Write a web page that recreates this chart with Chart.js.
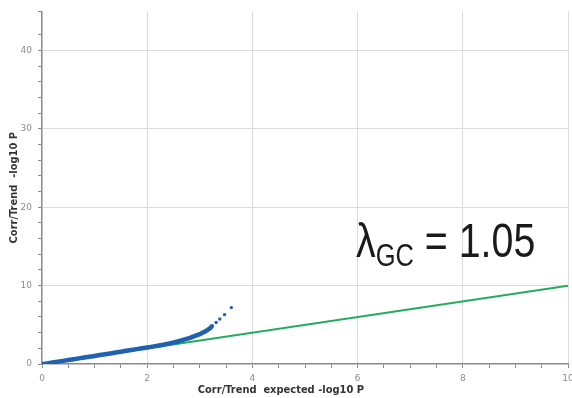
<!DOCTYPE html>
<html>
<head>
<meta charset="utf-8">
<script src="https://cdn.jsdelivr.net/npm/chart.js@4"></script>
<style>
    html, body { margin: 0; padding: 0; background: #ffffff; }
    #wrap { width: 572px; height: 398px; }
</style>
</head>
<body>
<div id="wrap"><canvas id="qqChart" width="572" height="398"></canvas></div>
<script>
// ============================================
// Data
// ============================================

// dense part of the QQ curve: expected vs observed -log10 P
const expectedP = [0, 0.05, 0.1, 0.2, 0.3, 0.4, 0.5, 0.6, 0.7, 0.8, 0.9, 1.0, 1.1, 1.2, 1.3, 1.4, 1.5, 1.6, 1.7, 1.8, 1.9,
    2.0, 2.1, 2.2, 2.3, 2.4, 2.5, 2.6, 2.7, 2.8, 2.9, 3.0, 3.05, 3.1, 3.15, 3.2, 3.24];
const observedP = [0, 0.03, 0.08, 0.19, 0.3, 0.4, 0.51, 0.61, 0.72, 0.82, 0.93, 1.03, 1.14, 1.25, 1.35, 1.46, 1.57, 1.68, 1.79, 1.9, 2.0,
    2.11, 2.22, 2.34, 2.46, 2.6, 2.74, 2.9, 3.1, 3.3, 3.55, 3.8, 3.98, 4.15, 4.35, 4.6, 4.9];

// the few separate points at the top of the tail
const tailExpected = [3.31, 3.38, 3.47, 3.6];
const tailObserved = [5.3, 5.75, 6.3, 7.2];

// null line y = x
const nullX = [0, 10];
const nullY = [0, 10];

// axes
const xMajorTicks = [0, 2, 4, 6, 8, 10];
const yMajorTicks = [0, 10, 20, 30, 40];
const xRange = [0, 10];
const yRange = [0, 45];

// annotation
const lambdaLabel = { main: 'λ', sub: 'GC', rest: ' = 1.05' };
const lambdaAt = { x: 5.97, y: 13.7 };

// ============================================
// Helpers
// ============================================

function toPoints(xs, ys) {
    return xs.map((x, i) => ({ x: x, y: ys[i] }));
}

const gridColor = '#dcdcdc';
const axisColor = '#8a8a8a';

// draws the lambda_GC text in data coordinates
const lambdaPlugin = {
    id: 'lambdaText',
    afterDatasetsDraw(chart) {
        const ctx = chart.ctx;
        const px = chart.scales.x.getPixelForValue(lambdaAt.x);
        const py = chart.scales.y.getPixelForValue(lambdaAt.y);
        const squeeze = 0.82;
        ctx.save();
        ctx.translate(px, py);
        ctx.scale(squeeze, 1);
        ctx.fillStyle = '#1a1a1a';
        ctx.textBaseline = 'alphabetic';
        ctx.textAlign = 'left';
        ctx.font = '48px "Liberation Sans", Arial, sans-serif';
        ctx.fillText(lambdaLabel.main, 0, 0);
        let w = ctx.measureText(lambdaLabel.main).width;
        ctx.font = '31px "Liberation Sans", Arial, sans-serif';
        ctx.fillText(lambdaLabel.sub, w, 9);
        w += ctx.measureText(lambdaLabel.sub).width;
        ctx.font = '48px "Liberation Sans", Arial, sans-serif';
        ctx.fillText(lambdaLabel.rest, w, 0);
        ctx.restore();
    }
};

// ============================================
// Chart
// ============================================

const ctx = document.getElementById('qqChart').getContext('2d');
const qqChart = new Chart(ctx, {
    type: 'scatter',
    data: {
        datasets: [
            {
                label: 'null',
                data: toPoints(nullX, nullY),
                showLine: true,
                borderColor: '#22ad5c',
                borderWidth: 2,
                pointRadius: 0,
                order: 2
            },
            {
                label: 'observed',
                data: toPoints(expectedP, observedP),
                showLine: true,
                borderColor: '#1f62ae',
                backgroundColor: '#1f62ae',
                borderWidth: 4.5,
                pointRadius: 1.6,
                pointBorderWidth: 0,
                order: 1
            },
            {
                label: 'tail',
                data: toPoints(tailExpected, tailObserved),
                borderColor: '#1f62ae',
                backgroundColor: '#1f62ae',
                pointRadius: 1.7,
                pointBorderWidth: 0,
                order: 1
            }
        ]
    },
    options: {
        responsive: false,
        animation: false,
        layout: { padding: { top: 10, right: 4, left: 0, bottom: 0 } },
        plugins: {
            legend: { display: false },
            tooltip: { enabled: false }
        },
        scales: {
            x: {
                type: 'linear',
                min: xRange[0],
                max: xRange[1],
                ticks: {
                    stepSize: 0.5,
                    autoSkip: false,
                    maxRotation: 0,
                    color: '#8c8c8c',
                    font: { family: 'DejaVu Sans', size: 9 },
                    padding: 5,
                    callback: (v) => xMajorTicks.includes(v) ? String(v) : ''
                },
                grid: {
                    color: (c) => xMajorTicks.includes(c.tick && c.tick.value) && c.tick.value !== 0 ? gridColor : 'rgba(0,0,0,0)',
                    tickColor: axisColor,
                    tickLength: 4,
                    lineWidth: 1
                },
                border: { color: axisColor, width: 1.5 },
                title: {
                    display: true,
                    // trailing spaces shift the centred title left, as in the reference
                    text: 'Corr/Trend  expected -log10 P' + '\u00A0'.repeat(14),
                    color: '#333333',
                    font: { family: 'DejaVu Sans Condensed', size: 11, weight: 'bold' },
                    padding: { top: 0, bottom: 1 }
                },
                afterFit: (scale) => {
                    scale.height = 34;
                    scale.paddingRight = 0;
                }
            },
            y: {
                type: 'linear',
                min: yRange[0],
                max: yRange[1],
                ticks: {
                    stepSize: 2,
                    autoSkip: false,
                    color: '#8c8c8c',
                    font: { family: 'DejaVu Sans', size: 9 },
                    padding: 6,
                    callback: (v) => yMajorTicks.includes(v) ? String(v) : ''
                },
                grid: {
                    color: (c) => yMajorTicks.includes(c.tick && c.tick.value) && c.tick.value !== 0 ? gridColor : 'rgba(0,0,0,0)',
                    tickColor: axisColor,
                    tickLength: 4,
                    lineWidth: 1
                },
                border: { color: axisColor, width: 1.5 },
                title: {
                    display: true,
                    text: 'Corr/Trend  -log10 P',
                    color: '#333333',
                    font: { family: 'DejaVu Sans Condensed', size: 11, weight: 'bold' },
                    padding: { top: 8, bottom: 0 }
                },
                afterFit: (scale) => { scale.width = 42; }
            }
        }
    },
    plugins: [lambdaPlugin]
});
</script>
</body>
</html>
